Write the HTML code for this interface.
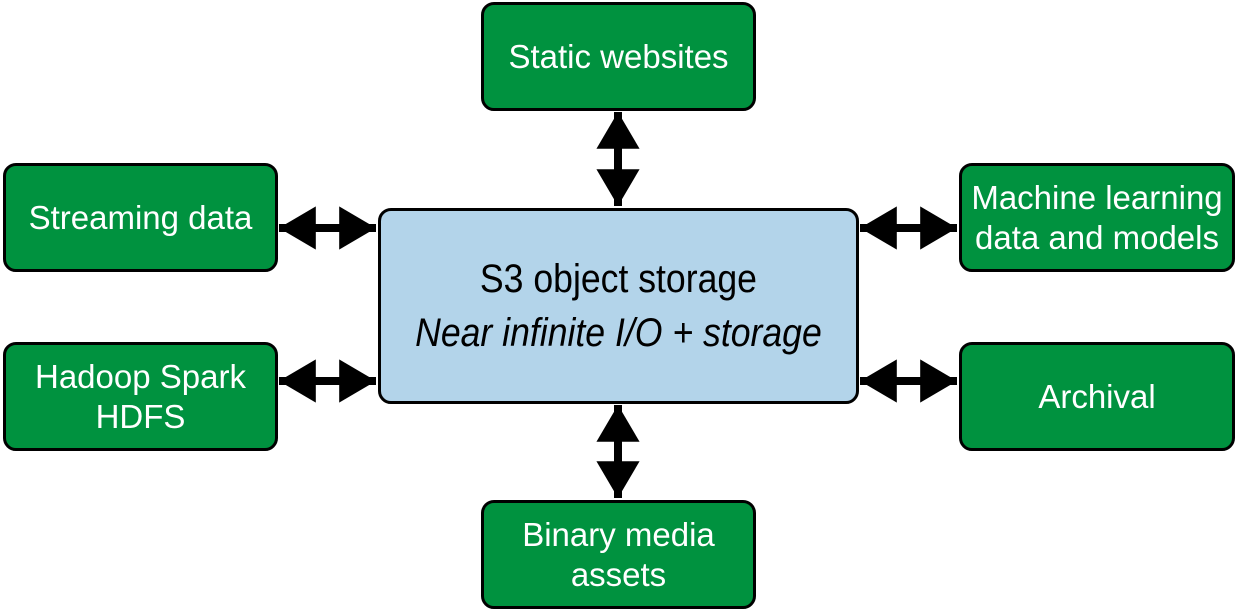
<!DOCTYPE html>
<html><head><meta charset="utf-8"><style>
body{margin:0;width:1237px;height:612px;background:#fff;position:relative;overflow:hidden;font-family:"Liberation Sans Narrow","Liberation Sans",sans-serif}
.b{position:absolute;box-sizing:border-box;border:3px solid #000;border-radius:13px;background:#00923f;color:#fff;display:flex;align-items:center;justify-content:center;text-align:center;font-size:33px;line-height:40px}
.c{background:#b3d4ea;color:#000;font-size:40px;line-height:54px}
.c div{transform:scaleX(0.89);white-space:nowrap}
svg{position:absolute;left:0;top:0}
</style></head><body>
<svg width="1237" height="612">
<defs><marker id="a" markerWidth="5" markerHeight="5.4" refX="4.6" refY="2.7" orient="auto-start-reverse" markerUnits="strokeWidth"><path d="M0,0L4.6,2.7L0,5.4z"/></marker></defs>
<g stroke="#000" stroke-width="8" marker-start="url(#a)" marker-end="url(#a)">
<line x1="279" y1="228" x2="376" y2="228"/>
<line x1="279" y1="381" x2="376" y2="381"/>
<line x1="860" y1="228" x2="957" y2="228"/>
<line x1="860" y1="381" x2="957" y2="381"/>
<line x1="618" y1="112" x2="618" y2="206"/>
<line x1="618" y1="405" x2="618" y2="498"/>
</g></svg>
<div class="b" style="left:481px;top:2px;width:275px;height:109px">Static websites</div>
<div class="b" style="left:3px;top:163px;width:275px;height:109px">Streaming data</div>
<div class="b" style="left:959px;top:163px;width:276px;height:109px"><div>Machine learning<br>data and models</div></div>
<div class="b" style="left:3px;top:342px;width:275px;height:109px"><div>Hadoop Spark<br>HDFS</div></div>
<div class="b" style="left:959px;top:342px;width:276px;height:109px">Archival</div>
<div class="b" style="left:481px;top:500px;width:275px;height:109px"><div>Binary media<br>assets</div></div>
<div class="b c" style="left:378px;top:208px;width:481px;height:196px"><div>S3 object storage<br><i>Near infinite I/O + storage</i></div></div>
</body></html>
